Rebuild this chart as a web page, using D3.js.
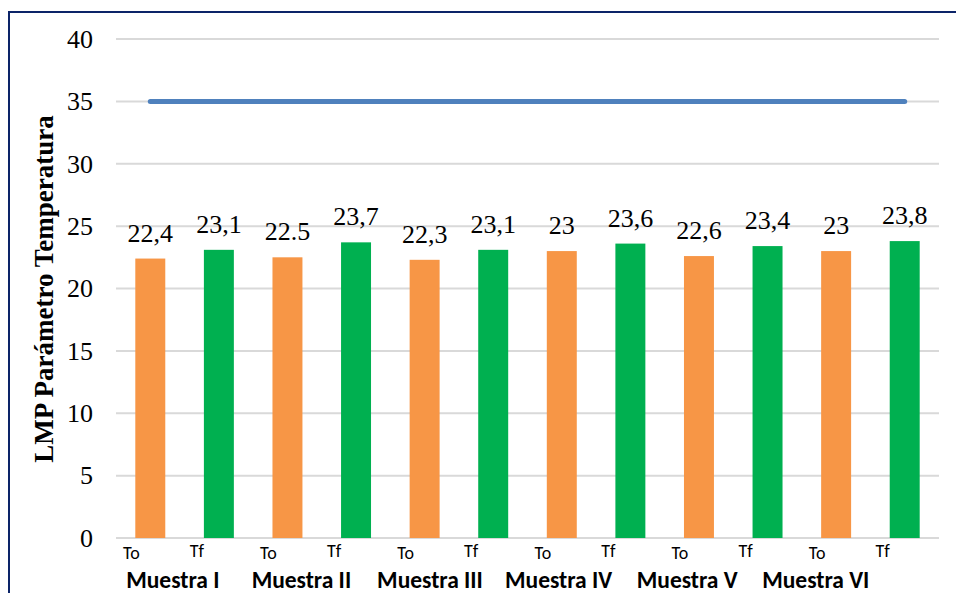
<!DOCTYPE html>
<html>
<head>
<meta charset="utf-8">
<script src="https://cdn.jsdelivr.net/npm/d3@7"></script>
<style>
  html, body { margin: 0; padding: 0; background: #fff; }
  svg { display: block; }
</style>
</head>
<body>
<svg id="chart" width="956" height="593"></svg>
<script>
// Samples and the two measurements taken for each (initial / final temperature)
const muestras = ["Muestra I", "Muestra II", "Muestra III", "Muestra IV", "Muestra V", "Muestra VI"];
const medidas = ["To", "Tf"];
const toValues = [22.4, 22.5, 22.3, 23, 22.6, 23];
const tfValues = [23.1, 23.7, 23.1, 23.6, 23.4, 23.8];
const toLabels = ["22,4", "22.5", "22,3", "23", "22,6", "23"];
const tfLabels = ["23,1", "23,7", "23,1", "23,6", "23,4", "23,8"];
// Maximum permissible limit (LMP) for temperature
const lmp = 35;
const yTicks = [0, 5, 10, 15, 20, 25, 30, 35, 40];
const yTitle = "LMP Parámetro Temperatura";

const W = 956, H = 593;
const plot = { left: 116, right: 939, top: 39, bottom: 538 };
const serif = "'Liberation Serif', 'Times New Roman', serif";
const sans = "Carlito, Calibri, Lato, sans-serif";

const bars = [];
muestras.forEach((m, i) => {
  bars.push({ key: m + "|" + medidas[0], group: m, kind: medidas[0], value: toValues[i], label: toLabels[i] });
  bars.push({ key: m + "|" + medidas[1], group: m, kind: medidas[1], value: tfValues[i], label: tfLabels[i] });
});

const svg = d3.select("#chart");

const x = d3.scaleBand()
  .domain(bars.map(d => d.key))
  .range([plot.left, plot.right])
  .paddingInner(0.563)
  .paddingOuter(0.2815);

const y = d3.scaleLinear().domain([0, 40]).range([plot.bottom, plot.top]);

// Horizontal gridlines
svg.append("g")
  .selectAll("line")
  .data(yTicks)
  .join("line")
  .attr("x1", plot.left).attr("x2", plot.right)
  .attr("y1", d => y(d)).attr("y2", d => y(d))
  .attr("stroke", "#d9d9d9")
  .attr("stroke-width", 2);

// Y tick labels
svg.append("g")
  .selectAll("text")
  .data(yTicks)
  .join("text")
  .attr("x", 93)
  .attr("y", d => y(d))
  .attr("dy", "0.34em")
  .attr("text-anchor", "end")
  .attr("font-family", serif)
  .attr("font-size", 26)
  .attr("fill", "#000")
  .text(d => d);

// Y axis title
svg.append("text")
  .attr("transform", `translate(53, 289) rotate(-90)`)
  .attr("text-anchor", "middle")
  .attr("font-family", serif)
  .attr("font-weight", "bold")
  .attr("font-size", 27)
  .attr("fill", "#000")
  .text(yTitle);

const color = { To: "#f79646", Tf: "#00b050" };

// Bars
svg.append("g")
  .selectAll("rect")
  .data(bars)
  .join("rect")
  .attr("x", d => x(d.key))
  .attr("width", x.bandwidth())
  .attr("y", d => y(d.value))
  .attr("height", d => y(0) - y(d.value))
  .attr("fill", d => color[d.kind]);

// Value labels above bars
svg.append("g")
  .selectAll("text")
  .data(bars)
  .join("text")
  .attr("x", d => x(d.key) + x.bandwidth() / 2)
  .attr("y", d => y(d.value) - 17)
  .attr("text-anchor", "middle")
  .attr("font-family", serif)
  .attr("font-size", 26)
  .attr("fill", "#000")
  .text(d => d.label);

// LMP reference line across all samples
const lmpLine = d3.line()
  .x(d => x(d.key) + x.bandwidth() / 2)
  .y(() => y(lmp));
svg.append("path")
  .datum([bars[0], bars[bars.length - 1]])
  .attr("d", lmpLine)
  .attr("fill", "none")
  .attr("stroke", "#4f81bd")
  .attr("stroke-width", 5)
  .attr("stroke-linecap", "round");

// Measurement labels (To / Tf) under the bars
svg.append("g")
  .selectAll("text")
  .data(bars)
  .join("text")
  .attr("x", d => x(d.key) + x.bandwidth() / 2 - (d.kind === "To" ? 19 : 22))
  .attr("y", d => d.kind === "To" ? 559 : 557)
  .attr("text-anchor", "middle")
  .attr("font-family", sans)
  .attr("font-size", 18)
  .attr("fill", "#000")
  .text(d => d.kind);

// Sample names along the bottom
const groupX = d3.scalePoint().domain(muestras).range([175.8, 818.8]);
svg.append("g")
  .selectAll("text")
  .data(muestras)
  .join("text")
  .attr("x", d => groupX(d) - 3)
  .attr("y", 588)
  .attr("text-anchor", "middle")
  .attr("font-family", sans)
  .attr("font-weight", "bold")
  .attr("font-size", 23.5)
  .attr("fill", "#000")
  .text(d => d);

// Frame around the chart area
svg.append("path")
  .attr("d", `M9,${H + 5} V12 H${W + 5}`)
  .attr("fill", "none")
  .attr("stroke", "#0c2468")
  .attr("stroke-width", 2);
</script>
</body>
</html>
